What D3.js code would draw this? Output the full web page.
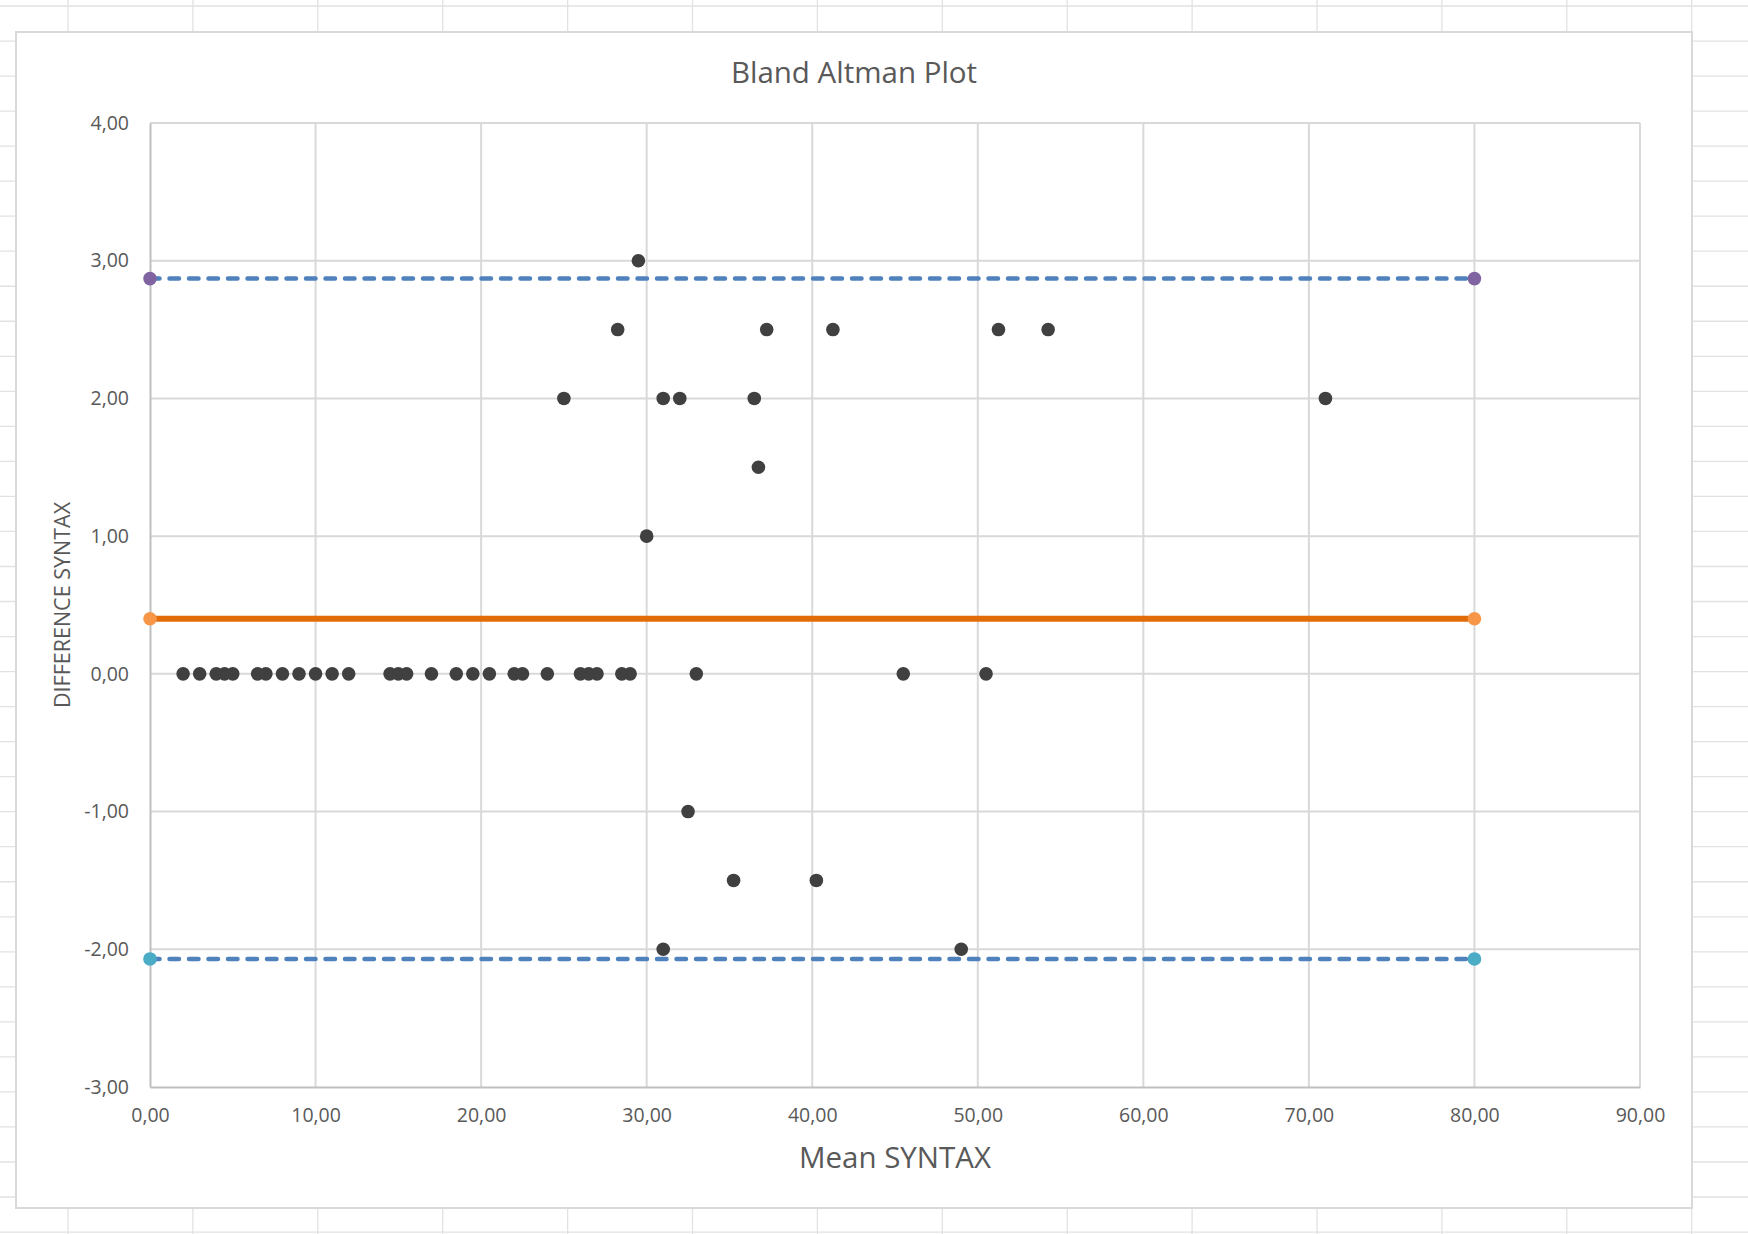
<!DOCTYPE html>
<html>
<head>
<meta charset="utf-8">
<script src="https://cdn.jsdelivr.net/npm/d3@7"></script>
<style>
  body { margin: 0; background: #fff; }
  svg { display: block; }
  text { font-family: "Open Sans", "Noto Sans", sans-serif; fill: #595959; }
</style>
</head>
<body>
<svg id="chart" width="1748" height="1234"></svg>
<script>
// ---- data ----
const title = "Bland Altman Plot";
const xTitle = "Mean SYNTAX";
const yTitle = "DIFFERENCE SYNTAX";
const xTicks = [0, 10, 20, 30, 40, 50, 60, 70, 80, 90];
const yTicks = [-3, -2, -1, 0, 1, 2, 3, 4];

// points with zero difference (mean values)
const zeroMeans = [2, 3, 4, 4.5, 5, 6.5, 7, 8, 9, 10, 11, 12, 14.5, 15, 15.5, 17, 18.5,
                   19.5, 20.5, 22, 22.5, 24, 26, 26.5, 27, 28.5, 29, 33, 45.5, 50.5];
// other points: mean values and differences
const otherMeans = [29.5, 28.25, 37.25, 41.25, 51.25, 54.25, 25, 31, 32, 36.5, 71, 36.75, 30, 32.5, 35.25, 40.25, 31, 49];
const otherDiffs = [3, 2.5, 2.5, 2.5, 2.5, 2.5, 2, 2, 2, 2, 2, 1.5, 1, -1, -1.5, -1.5, -2, -2];

// reference lines (x from 0 to 80)
const lineX = [0, 80];
const meanDiff = 0.40;
const upperLoA = 2.87;
const lowerLoA = -2.07;

// ---- drawing ----
const svg = d3.select("#chart");
const W = 1748, H = 1234;

// spreadsheet cell grid in background
const colLines = d3.range(68, W, 124.9);
const rowLines = d3.range(6, H, 35.03);
const bg = svg.append("g");
bg.selectAll("line.c").data(colLines).join("line")
  .attr("x1", d => d).attr("x2", d => d).attr("y1", 0).attr("y2", H)
  .attr("stroke", "#e2e2e2").attr("stroke-width", 1.3);
bg.selectAll("line.r").data(rowLines).join("line")
  .attr("x1", 0).attr("x2", W).attr("y1", d => d).attr("y2", d => d)
  .attr("stroke", "#e2e2e2").attr("stroke-width", 1.3);

// chart area
svg.append("rect").attr("x", 16).attr("y", 32).attr("width", 1676).attr("height", 1176)
  .attr("fill", "#fff").attr("stroke", "#d9d9d9").attr("stroke-width", 2);

const x = d3.scaleLinear().domain([0, 90]).range([150, 1640]);
const y = d3.scaleLinear().domain([-3, 4]).range([1087, 123]);

const loc = d3.formatLocale({decimal: ",", thousands: ".", grouping: [3], currency: ["", ""], minus: "-"});
const fmt = loc.format(".2f");

// gridlines
const grid = svg.append("g");
grid.selectAll("line.v").data(xTicks.filter(d => d > 0)).join("line")
  .attr("x1", d => x(d)).attr("x2", d => x(d)).attr("y1", y(4)).attr("y2", y(-3))
  .attr("stroke", "#d9d9d9").attr("stroke-width", 2);
grid.selectAll("line.h").data(yTicks.filter(d => d > -3)).join("line")
  .attr("x1", x(0)).attr("x2", x(90)).attr("y1", d => y(d)).attr("y2", d => y(d))
  .attr("stroke", "#d9d9d9").attr("stroke-width", 2);

// axes
const xAxis = svg.append("g").attr("transform", `translate(0,${y(-3)})`)
  .call(d3.axisBottom(x).tickValues(xTicks).tickFormat(fmt).tickSize(0).tickPadding(21));
const yAxis = svg.append("g").attr("transform", `translate(${x(0)},0)`)
  .call(d3.axisLeft(y).tickValues(yTicks).tickFormat(fmt).tickSize(0).tickPadding(21));
[xAxis, yAxis].forEach(a => {
  a.select(".domain").attr("stroke", "#bfbfbf").attr("stroke-width", 2);
  a.selectAll("text").style("font-size", "19.5px").attr("fill", "#595959")
    .style("font-family", '"Open Sans", sans-serif');
});

// data points
const dots = svg.append("g").attr("fill", "#404040");
dots.selectAll("circle.z").data(zeroMeans).join("circle")
  .attr("cx", d => x(d)).attr("cy", y(0)).attr("r", 6.8);
dots.selectAll("circle.o").data(otherMeans).join("circle")
  .attr("cx", d => x(d)).attr("cy", (d, i) => y(otherDiffs[i])).attr("r", 6.8);

// reference lines
const refs = [
  {v: upperLoA, stroke: "#4f81bd", marker: "#8064a2", dash: true, w: 4.5},
  {v: lowerLoA, stroke: "#4f81bd", marker: "#4bacc6", dash: true, w: 4.5},
  {v: meanDiff, stroke: "#e36c0a", marker: "#f79646", dash: false, w: 6}
];
const lineGen = d3.line().x(d => x(d[0])).y(d => y(d[1]));
refs.forEach(r => {
  const pts = lineX.map(xv => [xv, r.v]);
  const p = svg.append("path").attr("d", lineGen(pts)).attr("fill", "none")
    .attr("stroke", r.stroke).attr("stroke-width", r.w);
  if (r.dash) p.attr("stroke-dasharray", "9.5,10").attr("stroke-linecap", "round");
  svg.selectAll(null).data(pts).join("circle")
    .attr("cx", d => x(d[0])).attr("cy", d => y(d[1])).attr("r", 6.8).attr("fill", r.marker);
});

// titles
svg.append("text").attr("x", 854).attr("y", 83).attr("text-anchor", "middle")
  .style("font-size", "29.5px").text(title);
svg.append("text").attr("x", 895).attr("y", 1168).attr("text-anchor", "middle")
  .style("font-size", "29.5px").text(xTitle);
svg.append("text").attr("transform", "translate(70,605) rotate(-90)").attr("text-anchor", "middle")
  .style("font-size", "21.5px").text(yTitle);
</script>
</body>
</html>
